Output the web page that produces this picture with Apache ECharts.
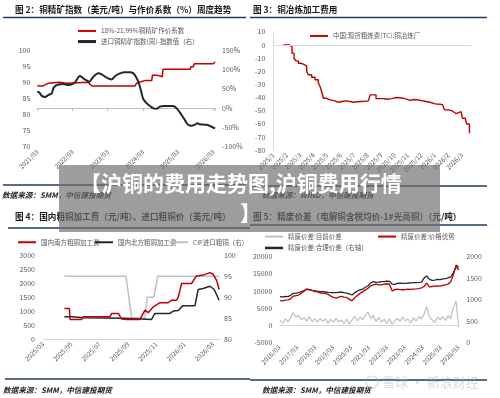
<!DOCTYPE html>
<html>
<head>
<meta charset="utf-8">
<script src="https://cdn.jsdelivr.net/npm/echarts@6/dist/echarts.min.js"></script>
<style>
html,body{margin:0;padding:0;background:#fff}
#main{width:500px;height:398px}
</style>
</head>
<body>
<div id="main"></div>
<script>
// 图2 铜精矿指数 / 作价系数 (x = 年, 从2021/03起)
var oreYearLabels = ['2021/03','2022/03','2023/03','2024/03','2025/03','2026/03'];
var coefSeries = [[0,88.9],[0.08,88.8],[0.10,88.4],[0.15,88.8],[0.17,89.4],[0.31,89.7],[0.36,90.0],[0.63,90.0],[0.66,89.7],[0.83,89.7],[0.88,90.0],[1.45,90.0],[1.50,89.3],[1.57,88.8],[2.77,88.8],[2.82,89.7],[2.96,90.2],[3.06,90.5],[3.25,90.5],[3.27,92.2],[3.39,92.2],[3.41,91.7],[3.55,91.7],[3.57,94.0],[4.34,94.0],[4.36,94.8],[4.43,94.8],[4.46,95.7],[5.00,95.7],[5.05,96.4]];
var oreIndexSeries = [[0,42],[0.06,40],[0.12,32],[0.22,28.5],[0.31,33.5],[0.41,38],[0.47,53.5],[0.60,61],[0.74,62],[0.88,59.5],[0.98,61],[1.07,66.4],[1.21,82.8],[1.35,74],[1.48,68],[1.57,78.5],[1.73,89.7],[1.83,87],[1.97,78.5],[2.11,74],[2.21,82.8],[2.35,89.7],[2.49,92.2],[2.63,92.2],[2.73,89.7],[2.80,81],[2.87,68],[2.94,46.6],[3.01,23.3],[3.11,12],[3.20,5.2],[3.30,-1],[3.39,-1.7],[3.48,3.5],[3.63,5.2],[3.77,5.5],[3.86,5],[3.96,-1],[4.10,-18],[4.20,-32.7],[4.29,-44],[4.38,-45.7],[4.48,-43],[4.55,-39.6],[4.62,-42],[4.81,-43.5],[4.95,-48.3],[5.05,-52.6]];

// 图3 铜冶炼加工费 (x = 月, 从2025/1起)
var tcMonthLabels = ['2025/1','2025/2','2025/3','2025/4','2025/5','2025/6','2025/7','2025/8','2025/9','2025/10','2025/11','2025/12','2026/1','2026/2','2026/3'];
var tcSeries = [[0.74,0],[1.19,0],[1.29,-1.3],[1.39,-6.3],[1.54,-10.2],[1.68,-12.2],[1.86,-14],[2.03,-14.7],[2.23,-15.2],[2.35,-16],[2.48,-20.3],[2.60,-22.8],[2.85,-24.6],[3.10,-26.6],[3.34,-28.7],[3.47,-31.7],[3.59,-35.5],[3.72,-40.6],[3.91,-41.9],[4.21,-42.6],[4.58,-43.7],[4.83,-42.9],[5.20,-42.6],[5.45,-43.7],[5.95,-43.1],[6.44,-42.9],[6.81,-42.6],[7.06,-41.1],[7.19,-38.1],[7.48,-38.1],[7.63,-40.9],[7.93,-40.9],[8.18,-41.4],[8.42,-40.9],[8.80,-40.1],[9.17,-40.4],[9.54,-40.9],[9.79,-42.2],[10.16,-41.6],[10.53,-42.2],[10.90,-42.9],[11.27,-43.7],[11.65,-44.9],[12.02,-45.2],[12.39,-45.7],[12.59,-47],[12.71,-49.5],[13.01,-50],[13.26,-51.3],[13.43,-52.3],[13.58,-50.8],[13.95,-50.8],[14.05,-55.8],[14.25,-56.3],[14.37,-60.2],[14.49,-60.2],[14.57,-67.3]];

// 图4 粗铜加工费 / CIF (x = 月, 从2025/03起)
var blisterMonthLabels = ['2025/03','2025/05','2025/07','2025/09','2025/11','2026/01','2026/03'];
var southFee = [[1.51,1095],[1.86,1095],[1.91,700],[2.73,700],[2.85,800],[4.73,800],[4.85,915],[5.32,915],[5.55,715],[5.90,700],[6.85,700],[7.20,1035],[7.43,940],[7.79,1155],[8.26,1300],[8.84,1300],[9.08,1390],[9.43,1390],[9.55,1490],[9.79,1990],[10.49,1990],[10.84,2260],[11.31,2290],[11.79,2380],[12.02,2320],[12.26,2100],[12.44,1775]];
var northFee = [[1.51,800],[2.02,800],[2.14,740],[2.85,760],[5.79,740],[5.90,700],[7.67,700],[7.90,915],[8.96,915],[9.20,1000],[9.55,1020],[9.86,1190],[10.73,1190],[10.96,1775],[11.31,1810],[11.79,1890],[12.09,1775],[12.44,1390]];
var cifPrice = [[1.51,95],[5.86,95],[6.26,85],[7.20,85],[7.36,90],[7.83,90],[8.10,95],[12.44,95]];

// 图5 精废价差 (x = 年, 从2016/03起)
var scrapYearLabels = ['2016/03','2017/03','2018/03','2019/03','2020/03','2021/03','2022/03','2023/03','2024/03','2025/03','2026/03'];
var scrapX = [0.04,0.19,0.34,0.49,0.63,0.78,0.93,1.08,1.23,1.38,1.53,1.68,1.83,1.98,2.12,2.27,2.42,2.57,2.72,2.87,3.02,3.17,3.32,3.47,3.61,3.76,3.91,4.06,4.21,4.36,4.51,4.66,4.81,4.96,5.10,5.25,5.40,5.55,5.70,5.85,6.00,6.15,6.30,6.45,6.59,6.74,6.89,7.04,7.19,7.34,7.49,7.64,7.79,7.94,8.08,8.23,8.38,8.53,8.68,8.83,8.98,9.13,9.28,9.43,9.57,9.72,9.87,10.02];
var spreadNow = [1500,600,1800,1000,2200,3600,2300,2900,1500,2200,1200,2500,1000,1900,800,2000,1100,1800,600,1700,900,2000,1000,1500,500,1800,300,1500,2600,1200,2400,1600,3000,3800,2000,2900,1100,2300,900,1700,500,1900,200,1300,2000,1100,2400,1300,1800,700,2200,1200,2600,1800,3200,5400,2500,1500,800,2300,1600,2500,1400,2800,1900,5200,7000,-600];
var spreadAdvantage = [7200,7100,7300,7400,7700,8500,8600,8800,9300,9900,10600,10400,10200,9800,9700,9400,9350,9300,9000,8500,8100,7900,8200,8400,8200,8100,7600,7100,8000,8700,9300,9800,10300,10800,11500,11800,12000,11800,11800,12000,12100,12000,10000,10400,10500,10400,10350,10400,10500,10450,10550,10600,10700,10900,11300,12300,11200,11300,11400,11500,11400,11600,11800,12000,12700,14700,17600,16900];
var spreadFair = [1066,1060,1070,1066,1100,1144,1150,1160,1185,1206,1237,1225,1215,1206,1195,1185,1183,1175,1167,1162,1160,1160,1168,1175,1160,1150,1130,1105,1160,1200,1225,1245,1285,1320,1390,1416,1400,1405,1416,1420,1430,1425,1360,1355,1375,1380,1375,1378,1385,1390,1393,1395,1398,1405,1500,1549,1475,1445,1455,1470,1465,1480,1490,1505,1530,1620,1770,1690];

function zip(xs, ys) {
  return xs.map(function (x, i) { return [x, ys[i]]; });
}
function tickLabel(labels, step) {
  return function (v) {
    var i = Math.round(v / step);
    return Math.abs(v - i * step) < 1e-6 && labels[i] ? labels[i] : '';
  };
}
function plain(suffix) {
  return function (v) { return String(v) + (suffix || ''); };
}

var FONT = '"Noto Sans CJK SC", sans-serif';
var RED = '#c00000', DARK = '#1e2834', GREY = '#bfbfbf', NAVY = '#1f3864';

function xAxis(grid, max, interval, labels, opts) {
  var ax = {
    gridIndex: grid, type: 'value', min: 0, max: max, interval: interval,
    axisLine: { show: false }, axisTick: { show: false }, splitLine: { show: false },
    axisLabel: { rotate: 45, margin: 4, fontSize: 6.5, color: '#595959', fontFamily: FONT, formatter: tickLabel(labels, interval) }
  };
  return Object.assign(ax, opts || {});
}
function yAxis(grid, pos, min, max, interval, margin, suffix, opts) {
  var ax = {
    gridIndex: grid, type: 'value', position: pos, min: min, max: max, interval: interval,
    axisLine: { show: false }, axisTick: { show: false }, splitLine: { show: false },
    axisLabel: { margin: margin, color: '#595959', fontSize: 7, fontFamily: FONT, formatter: plain(suffix) }
  };
  return Object.assign(ax, opts || {});
}
function legend(name, left, top, h) {
  return {
    data: [name], left: left, top: top, icon: 'rect', itemWidth: 18, itemHeight: h || 2,
    selectedMode: false, padding: 0,
    textStyle: { fontSize: 6.5, color: '#595959', fontFamily: FONT }
  };
}
function text(str, x, y, style) {
  return { type: 'text', x: x, y: y, style: Object.assign({ text: str, fontFamily: FONT, verticalAlign: 'middle' }, style) };
}
function rule(x1, x2, y) {
  return { type: 'line', shape: { x1: x1, y1: y, x2: x2, y2: y }, style: { stroke: NAVY, lineWidth: 1.5 } };
}
var titleStyle = { fontSize: 8.6, fontWeight: 'bold', fill: '#1a1a1a' };
var srcStyle = { fontSize: 7.6, fontStyle: 'italic', fontWeight: 'bold', fill: '#222' };
var zeroLine = { silent: true, symbol: 'none', label: { show: false }, lineStyle: { color: '#d9d9d9', type: 'solid', width: 1 }, data: [{ yAxis: 0 }] };

var chart = echarts.init(document.getElementById('main'), null, { renderer: 'canvas' });
chart.setOption({
  animation: false,
  backgroundColor: '#fff',
  grid: [
    { left: 37.3, top: 50, width: 177.8, height: 96.7, outerBoundsMode: 'none' },
    { left: 273.3, top: 31.7, width: 197.9, height: 118.3, outerBoundsMode: 'none' },
    { left: 43, top: 255.3, width: 177, height: 83.7, outerBoundsMode: 'none' },
    { left: 279.3, top: 256.7, width: 180, height: 85.6, outerBoundsMode: 'none' }
  ],
  xAxis: [
    xAxis(0, 5.05, 1, oreYearLabels, {
      axisLine: { show: true, lineStyle: { color: '#bfbfbf' } },
      axisTick: { show: true, length: 3, lineStyle: { color: '#bfbfbf' } }
    }),
    xAxis(1, 14.7, 1, tcMonthLabels),
    xAxis(2, 12.5, 2, blisterMonthLabels, { axisLine: { show: true, lineStyle: { color: '#d9d9d9' } } }),
    xAxis(3, 10.05, 1, scrapYearLabels)
  ],
  yAxis: [
    yAxis(0, 'left', 70, 100, 5, 7),
    yAxis(0, 'right', -100, 150, 50, 7, '%'),
    yAxis(1, 'left', -80, 10, 10, 8, '', { axisLine: { show: true, lineStyle: { color: '#d9d9d9' } } }),
    yAxis(2, 'left', 0, 3000, 500, 8),
    yAxis(2, 'right', 80, 100, 5, 4),
    yAxis(3, 'left', -5000, 20000, 5000, 7),
    yAxis(3, 'right', 0, 2000, 500, 7)
  ],
  legend: [
    legend('18%-21.99%铜精矿作价系数', 78, 27.7),
    legend('进口铜精矿指数(周)-指数值（右）', 78, 38.3, 3),
    legend('中国:现货粗炼费(TC):铜冶炼厂', 310, 32.7),
    legend('国内南方粗铜加工费', 18, 239),
    legend('国内北方粗铜加工费', 95, 239),
    legend('CIF进口粗铜（右）', 170, 239),
    legend('精废价差:目前价差', 265, 233.3),
    legend('精废价差:价格优势', 378, 233.3),
    legend('精废价差:合理价差（右轴）', 265, 244.7, 2.5)
  ],
  series: [
    { name: '18%-21.99%铜精矿作价系数', type: 'line', xAxisIndex: 0, yAxisIndex: 0, data: coefSeries, symbol: 'none', color: RED, lineStyle: { width: 1.5 } },
    { name: '进口铜精矿指数(周)-指数值（右）', type: 'line', xAxisIndex: 0, yAxisIndex: 1, data: oreIndexSeries, symbol: 'none', smooth: 0.3, color: DARK, lineStyle: { width: 2 } },
    { name: '中国:现货粗炼费(TC):铜冶炼厂', type: 'line', xAxisIndex: 1, yAxisIndex: 2, data: tcSeries, symbol: 'none', step: 'end', color: RED, lineStyle: { width: 1.4 }, markLine: zeroLine },
    { name: '国内南方粗铜加工费', type: 'line', xAxisIndex: 2, yAxisIndex: 3, data: southFee, symbol: 'none', color: RED, lineStyle: { width: 1.5 }, z: 4 },
    { name: '国内北方粗铜加工费', type: 'line', xAxisIndex: 2, yAxisIndex: 3, data: northFee, symbol: 'none', color: DARK, lineStyle: { width: 1.5 }, z: 3 },
    { name: 'CIF进口粗铜（右）', type: 'line', xAxisIndex: 2, yAxisIndex: 4, data: cifPrice, symbol: 'none', color: GREY, lineStyle: { width: 1.5 }, z: 2 },
    { name: '精废价差:目前价差', type: 'line', xAxisIndex: 3, yAxisIndex: 5, data: zip(scrapX, spreadNow), symbol: 'none', color: GREY, lineStyle: { width: 1.2 }, markLine: zeroLine },
    { name: '精废价差:价格优势', type: 'line', xAxisIndex: 3, yAxisIndex: 5, data: zip(scrapX, spreadAdvantage), symbol: 'none', color: RED, lineStyle: { width: 1.3 }, z: 4 },
    { name: '精废价差:合理价差（右轴）', type: 'line', xAxisIndex: 3, yAxisIndex: 6, data: zip(scrapX, spreadFair), symbol: 'none', color: DARK, lineStyle: { width: 1.3 }, z: 3 }
  ],
  graphic: [
    text('图 2：铜精矿指数（美元/吨）与作价系数（%）周度趋势', 15, 10, titleStyle),
    text('图 3：铜冶炼加工费用', 253, 10, titleStyle),
    text('图 4：国内粗铜加工费（元/吨）、进口粗铜价（美元/吨）', 15, 217, titleStyle),
    text('图 5：精废价差（电解铜含税均价-1#光亮铜）（元/吨）', 253, 217, titleStyle),
    rule(3, 246, 17.5), rule(250, 487, 17.5),
    rule(3, 246, 185), rule(250, 487, 186),
    rule(8, 250, 228), rule(250, 487, 225),
    rule(5, 250, 379), rule(250, 487, 380),
    text('数据来源：SMM，中信建投期货', 2, 195, srcStyle),
    text('数据来源：WIND，中信建投期货', 262, 195, srcStyle),
    text('数据来源：SMM，中信建投期货', 3, 390, srcStyle),
    text('数据来源：SMM，中信建投期货', 262, 390, srcStyle),
    { type: 'circle', shape: { cx: 372, cy: 382, r: 6 }, style: { fill: 'none', stroke: 'rgba(160,170,190,0.45)', lineWidth: 1.2 }, z: 50 },
    text('雪球 · 新浪财经', 382, 382, { fontSize: 13, fill: 'rgba(160,170,190,0.45)' }),
    { type: 'rect', shape: { x: 59, y: 165, width: 381, height: 67 }, style: { fill: 'rgba(110,110,110,0.68)' }, z: 100 },
    { type: 'text', x: 80, y: 183, z: 101, style: { text: '【沪铜的费用走势图,沪铜费用行情', fontFamily: FONT, fontSize: 21, fontWeight: 'bold', fill: '#fff', verticalAlign: 'middle' } },
    { type: 'text', x: 240, y: 213, z: 101, style: { text: '】', fontFamily: FONT, fontSize: 21, fontWeight: 'bold', fill: '#fff', verticalAlign: 'middle' } }
  ]
});
</script>
</body>
</html>
